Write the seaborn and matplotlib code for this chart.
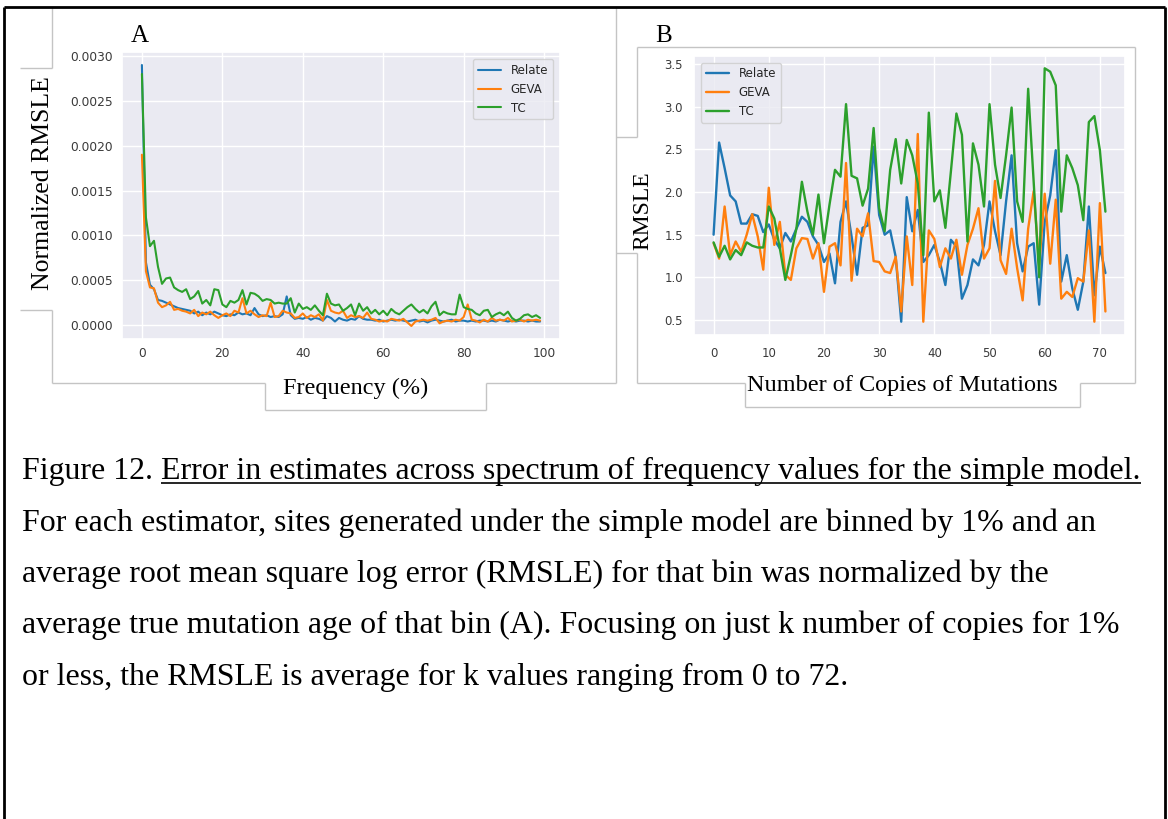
import numpy as np
import pandas as pd
import matplotlib
matplotlib.use("Agg")
import matplotlib.pyplot as plt
from matplotlib.lines import Line2D
import seaborn as sns

# ---------------- data ----------------
series_names = ["Relate", "GEVA", "TC"]

freq = list(range(100))
relate_a = [0.00290, 0.00070, 0.00045, 0.00040, 0.00028, 0.00027, 0.00025, 0.00023, 0.00021, 0.00019,
            0.00018, 0.00017, 0.00016, 0.00013, 0.00015, 0.00011, 0.00014, 0.00012, 0.00015, 0.00013,
            0.00011, 0.00010, 0.00012, 0.00011, 0.00014, 0.00012, 0.00013, 0.00011, 0.00019, 0.00012,
            0.00010, 0.00011, 0.00009, 0.00010, 0.00009, 0.00012, 0.00032, 0.00011, 0.00007, 0.00008,
            0.00007, 0.00009, 0.00006, 0.00008, 0.00007, 0.00005, 0.00010, 0.00008, 0.00004, 0.00008,
            0.00006, 0.00005, 0.00007, 0.00006, 0.00010, 0.00007, 0.00006, 0.00006, 0.00005, 0.00006,
            0.00004, 0.00005, 0.00006, 0.00005, 0.00006, 0.00005, 0.00004, 0.00005, 0.00006, 0.00004,
            0.00005, 0.00003, 0.00005, 0.00006, 0.00005, 0.00004, 0.00005, 0.00006, 0.00004, 0.00005,
            0.00005, 0.00004, 0.00005, 0.00004, 0.00005, 0.00005, 0.00004, 0.00005, 0.00004, 0.00006,
            0.00005, 0.00004, 0.00005, 0.00004, 0.00005, 0.00005, 0.00004, 0.00005, 0.00004, 0.00004]
geva_a = [0.00190, 0.00060, 0.00042, 0.00041, 0.00025, 0.00020, 0.00022, 0.00026, 0.00017, 0.00018,
          0.00016, 0.00015, 0.00013, 0.00017, 0.00010, 0.00014, 0.00012, 0.00015, 0.00011, 0.00008,
          0.00011, 0.00013, 0.00010, 0.00016, 0.00014, 0.00030, 0.00013, 0.00016, 0.00012, 0.00009,
          0.00011, 0.00010, 0.00025, 0.00009, 0.00010, 0.00016, 0.00014, 0.00013, 0.00008, 0.00009,
          0.00013, 0.00008, 0.00011, 0.00009, 0.00012, 0.00005, 0.00028, 0.00016, 0.00014, 0.00013,
          0.00016, 0.00008, 0.00011, 0.00009, 0.00010, 0.00008, 0.00014, 0.00007, 0.00006, 0.00004,
          0.00005, 0.00004, 0.00007, 0.00006, 0.00005, 0.00007, 0.00003, -0.00001, 0.00004, 0.00005,
          0.00006, 0.00005, 0.00006, 0.00008, 0.00002, 0.00004, 0.00005, 0.00004, 0.00006, 0.00005,
          0.00009, 0.00023, 0.00006, 0.00005, 0.00003, 0.00006, 0.00004, 0.00008, 0.00005, 0.00006,
          0.00005, 0.00008, 0.00004, 0.00005, 0.00006, 0.00004, 0.00006, 0.00005, 0.00006, 0.00005]
tc_a = [0.00280, 0.00120, 0.00088, 0.00094, 0.00065, 0.00046, 0.00052, 0.00053, 0.00042, 0.00039,
        0.00037, 0.00040, 0.00029, 0.00032, 0.00038, 0.00024, 0.00028, 0.00022, 0.00040, 0.00039,
        0.00023, 0.00020, 0.00027, 0.00025, 0.00028, 0.00039, 0.00023, 0.00036, 0.00035, 0.00032,
        0.00027, 0.00029, 0.00028, 0.00024, 0.00025, 0.00024, 0.00024, 0.00030, 0.00014, 0.00024,
        0.00018, 0.00020, 0.00017, 0.00022, 0.00016, 0.00011, 0.00035, 0.00024, 0.00022, 0.00023,
        0.00016, 0.00019, 0.00023, 0.00011, 0.00024, 0.00016, 0.00020, 0.00013, 0.00017, 0.00012,
        0.00016, 0.00011, 0.00018, 0.00014, 0.00012, 0.00016, 0.00020, 0.00023, 0.00018, 0.00014,
        0.00017, 0.00013, 0.00021, 0.00026, 0.00011, 0.00015, 0.00013, 0.00012, 0.00012, 0.00034,
        0.00020, 0.00018, 0.00017, 0.00013, 0.00011, 0.00016, 0.00017, 0.00009, 0.00012, 0.00014,
        0.00011, 0.00015, 0.00008, 0.00005, 0.00007, 0.00011, 0.00012, 0.00009, 0.00011, 0.00008]

copies = list(range(72))
relate_b = [1.50, 2.58, 2.28, 1.96, 1.89, 1.63, 1.63, 1.74, 1.72, 1.53,
            1.62, 1.44, 1.34, 1.52, 1.42, 1.57, 1.71, 1.65, 1.48, 1.38,
            1.18, 1.28, 0.93, 1.65, 1.89, 1.48, 1.03, 1.58, 1.61, 2.53,
            1.73, 1.50, 1.55, 1.24, 0.48, 1.94, 1.54, 1.79, 1.18, 1.26,
            1.38, 1.18, 0.91, 1.44, 1.36, 0.75, 0.91, 1.21, 1.14, 1.38,
            1.89, 1.54, 1.26, 1.89, 2.43, 1.40, 1.07, 1.36, 1.40, 0.68,
            1.65, 1.96, 2.49, 0.95, 1.26, 0.87, 0.62, 0.95, 1.83, 0.79,
            1.36, 1.05]
geva_b = [1.40, 1.22, 1.83, 1.26, 1.42, 1.30, 1.50, 1.74, 1.48, 1.09,
          2.05, 1.38, 1.65, 1.03, 0.97, 1.34, 1.46, 1.45, 1.22, 1.40,
          0.83, 1.36, 1.40, 1.14, 2.34, 0.96, 1.57, 1.48, 1.75, 1.19,
          1.18, 1.07, 1.05, 1.24, 0.60, 1.48, 0.91, 2.68, 0.48, 1.55,
          1.45, 1.12, 1.34, 1.22, 1.44, 1.03, 1.38, 1.57, 1.81, 1.22,
          1.34, 2.13, 1.20, 1.04, 1.57, 1.11, 0.73, 1.57, 2.01, 1.15,
          1.98, 1.16, 1.91, 0.75, 0.83, 0.77, 0.99, 0.95, 1.55, 0.48,
          1.87, 0.60]
tc_b = [1.41, 1.24, 1.37, 1.21, 1.32, 1.26, 1.41, 1.37, 1.35, 1.35,
        1.83, 1.69, 1.34, 0.97, 1.26, 1.57, 2.12, 1.77, 1.50, 1.97,
        1.40, 1.85, 2.26, 2.18, 3.03, 2.19, 2.16, 1.84, 2.04, 2.75,
        1.81, 1.54, 2.26, 2.62, 2.10, 2.61, 2.43, 2.10, 1.26, 2.93,
        1.89, 2.02, 1.58, 2.24, 2.92, 2.67, 1.42, 2.57, 2.32, 1.83,
        3.03, 2.32, 1.93, 2.43, 2.99, 1.89, 1.65, 3.21, 2.12, 1.00,
        3.45, 3.41, 3.25, 1.77, 2.43, 2.28, 2.08, 1.67, 2.82, 2.89,
        2.49, 1.77]

yticks_a = [0.0, 0.0005, 0.0010, 0.0015, 0.0020, 0.0025, 0.0030]
xticks_a = [0, 20, 40, 60, 80, 100]
yticks_b = [0.5, 1.0, 1.5, 2.0, 2.5, 3.0, 3.5]
xticks_b = [0, 10, 20, 30, 40, 50, 60, 70]

caption_lead = "Figure 12. "
caption_title = "Error in estimates across spectrum of frequency values for the simple model."
caption_lines = [
    "For each estimator, sites generated under the simple model are binned by 1% and an",
    "average root mean square log error (RMSLE) for that bin was normalized by the",
    "average true mutation age of that bin (A). Focusing on just k number of copies for 1%",
    "or less, the RMSLE is average for k values ranging from 0 to 72.",
]

# ---------------- figure ----------------
sns.set_theme(style="darkgrid")
plt.rcParams["font.family"] = ["DejaVu Sans"]
W, H = 1168, 819
fig = plt.figure(figsize=(W / 100, H / 100), dpi=100)
fig.patch.set_facecolor("white")
palette = {"Relate": "#1f77b4", "GEVA": "#ff7f0e", "TC": "#2ca02c"}
SERIF = "Liberation Serif"
INK = "black"


def fx(x):
    return x / W


def fy(y):
    return 1 - y / H


def pline(xs, ys, color="#c4c4c4", lw=1.0):
    fig.add_artist(Line2D([fx(v) for v in xs], [fy(v) for v in ys],
                          transform=fig.transFigure, color=color, lw=lw,
                          solid_capstyle="butt"))


def make_df(x, a, b, c):
    return pd.DataFrame({
        "x": list(x) * 3,
        "y": list(a) + list(b) + list(c),
        "Estimator": [series_names[0]] * len(a) + [series_names[1]] * len(b) + [series_names[2]] * len(c),
    })


TICKCOL = "#3a3a3a"

# panel A
axA = fig.add_axes([fx(122), fy(339), (560 - 122) / W, (339 - 52) / H])
dfA = make_df(freq, relate_a, geva_a, tc_a)
sns.lineplot(data=dfA, x="x", y="y", hue="Estimator", palette=palette, ax=axA, linewidth=1.5)
axA.set_xlim(-4.95, 103.95)
axA.set_ylim(-0.000155, 0.003045)
axA.set_yticks(yticks_a)
axA.set_yticklabels([f"{v:.4f}" for v in yticks_a])
axA.set_xticks(xticks_a)
axA.set_xlabel("")
axA.set_ylabel("")
axA.tick_params(axis="x", length=0, labelsize=8.8, labelcolor=TICKCOL, pad=6)
axA.tick_params(axis="y", length=0, labelsize=8.8, labelcolor=TICKCOL, pad=6.5)
h, l = axA.get_legend_handles_labels()
axA.legend(h, l, loc="upper right", fontsize=8.5, borderaxespad=0.6)

# panel B
axB = fig.add_axes([fx(694), fy(334.5), (1125 - 694) / W, (334.5 - 55.5) / H])
dfB = make_df(copies, relate_b, geva_b, tc_b)
sns.lineplot(data=dfB, x="x", y="y", hue="Estimator", palette=palette, ax=axB, linewidth=1.7)
axB.set_xlim(-3.55, 74.55)
axB.set_ylim(0.33, 3.60)
axB.set_yticks(yticks_b)
axB.set_yticklabels([f"{v:.1f}" for v in yticks_b])
axB.set_xticks(xticks_b)
axB.set_xlabel("")
axB.set_ylabel("")
axB.tick_params(axis="x", length=0, labelsize=8.5, labelcolor=TICKCOL, pad=9)
axB.tick_params(axis="y", length=0, labelsize=8.5, labelcolor=TICKCOL, pad=8)
h, l = axB.get_legend_handles_labels()
axB.legend(h, l, loc="upper left", fontsize=8.5, borderaxespad=0.6)

# axis labels and panel letters (serif, as in the document)
fig.text(fx(140), fy(36), "A", family=SERIF, size=18, ha="center", va="center", color=INK)
fig.text(fx(664), fy(36), "B", family=SERIF, size=18, ha="center", va="center", color=INK)
fig.text(fx(43), fy(183), "Normalized RMSLE", family=SERIF, size=18.5, rotation=90,
         ha="center", va="center", color=INK)
fig.text(fx(356), fy(388), "Frequency (%)", family=SERIF, size=17.5, ha="center", va="center",
         color=INK)
fig.text(fx(643), fy(211), "RMSLE", family=SERIF, size=17, rotation=90, ha="center", va="center",
         color=INK)
fig.text(fx(902), fy(386), "Number of Copies of Mutations", family=SERIF, size=17.5,
         ha="center", va="center", color=INK)

# screenshot crop edges (light gray)
pline([52, 52], [7, 68]); pline([20, 52], [68, 68])
pline([20, 52], [310, 310]); pline([52, 52], [310, 383])
pline([52, 265], [383, 383]); pline([265, 265], [383, 410]); pline([265, 486], [410, 410])
pline([486, 486], [383, 410]); pline([486, 616], [383, 383]); pline([616, 616], [7, 383])
pline([637, 1135], [47, 47]); pline([637, 637], [47, 137]); pline([616, 637], [137, 137])
pline([616, 637], [253, 253]); pline([637, 637], [253, 383])
pline([637, 745], [383, 383]); pline([745, 745], [383, 407]); pline([745, 1080], [407, 407])
pline([1080, 1080], [383, 407]); pline([1080, 1135], [383, 383]); pline([1135, 1135], [47, 383])

# outer black border
pline([4, 4], [7, 830], color="black", lw=2)
pline([4, 1165], [7, 7], color="black", lw=2)
pline([1165, 1165], [7, 830], color="black", lw=2)

# caption: fit font size so first line spans ~1120 px
renderer = fig.canvas.get_renderer()
fs = 18.0
probe = fig.text(0, 0, caption_lead + caption_title, family=SERIF, size=fs)
wpx = probe.get_window_extent(renderer).width
probe.remove()
fs = fs * (1120.0 / wpx)

x0 = 22
base = [479, 530.5, 582, 633.5, 685]
t_lead = fig.text(fx(x0), fy(base[0]), caption_lead, family=SERIF, size=fs, va="baseline", color=INK)
lead_w = t_lead.get_window_extent(renderer).width
t_title = fig.text(fx(x0 + lead_w), fy(base[0]), caption_title, family=SERIF, size=fs,
                   va="baseline", color=INK)
title_w = t_title.get_window_extent(renderer).width
pline([x0 + lead_w, x0 + lead_w + title_w], [base[0] + 4, base[0] + 4], color="black", lw=1.2)
for line, b in zip(caption_lines, base[1:]):
    fig.text(fx(x0), fy(b), line, family=SERIF, size=fs, va="baseline", color=INK)

fig.savefig("out.png", dpi=100)
